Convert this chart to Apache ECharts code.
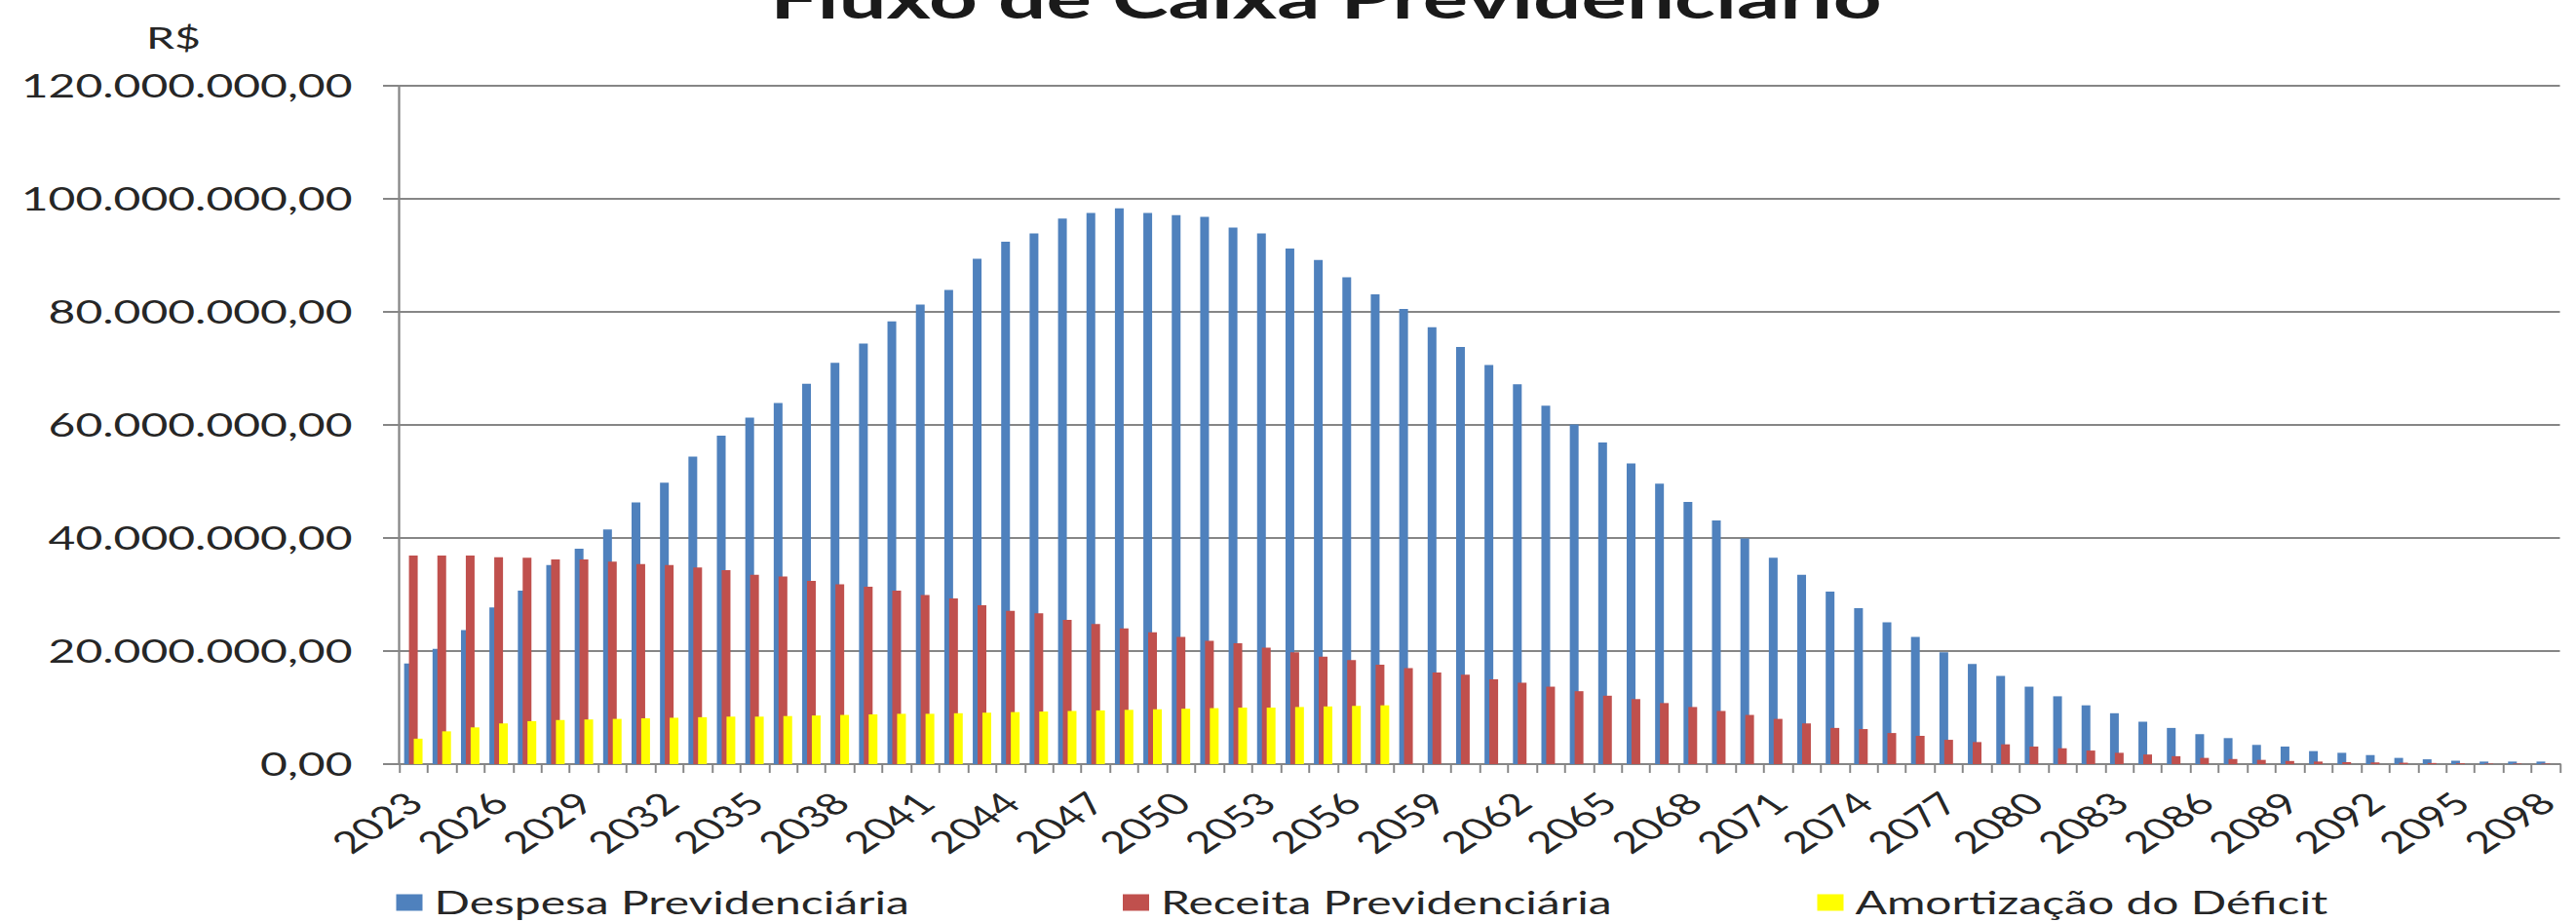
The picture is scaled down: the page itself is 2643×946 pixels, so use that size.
<!DOCTYPE html>
<html>
<head>
<meta charset="utf-8">
<script src="https://cdn.jsdelivr.net/npm/echarts@6/dist/echarts.min.js"></script>
<style>
  html, body { margin: 0; padding: 0; background: #ffffff; overflow: hidden; }
  /* the chart is laid out narrow and widened horizontally, like the original wide export */
  #chart { width: 1762px; height: 946px; transform: scaleX(1.5); transform-origin: 0 0; }
</style>
</head>
<body>
<div id="chart"></div>
<script>
// Anos da projeção atuarial
const anos = [];
for (let a = 2023; a <= 2098; a++) anos.push(String(a));

// Valores em milhões de R$
const despesa = [
  17.8, 20.4, 23.7, 27.7, 30.7, 35.2, 38.1, 41.5, 46.3, 49.8,
  54.4, 58.1, 61.3, 63.9, 67.3, 71.0, 74.4, 78.3, 81.3, 83.9,
  89.4, 92.4, 93.9, 96.5, 97.5, 98.3, 97.5, 97.1, 96.8, 94.9,
  93.9, 91.2, 89.2, 86.1, 83.1, 80.5, 77.3, 73.8, 70.6, 67.2,
  63.4, 60.1, 56.9, 53.2, 49.6, 46.4, 43.1, 39.9, 36.5, 33.5,
  30.5, 27.6, 25.1, 22.5, 19.8, 17.7, 15.6, 13.7, 12.0, 10.4,
  9.0, 7.5, 6.4, 5.3, 4.6, 3.4, 3.1, 2.3, 2.0, 1.6,
  1.1, 0.85, 0.6, 0.45, 0.45, 0.45
];

const receita = [
  36.9, 36.9, 36.9, 36.6, 36.5, 36.2, 36.2, 35.8, 35.4, 35.2,
  34.8, 34.3, 33.5, 33.2, 32.4, 31.8, 31.4, 30.7, 29.9, 29.3,
  28.1, 27.1, 26.7, 25.5, 24.8, 24.0, 23.3, 22.5, 21.8, 21.4,
  20.6, 19.8, 19.0, 18.4, 17.6, 17.0, 16.2, 15.8, 15.0, 14.4,
  13.7, 12.9, 12.1, 11.5, 10.8, 10.1, 9.4, 8.7, 8.0, 7.2,
  6.4, 6.2, 5.5, 5.0, 4.3, 3.9, 3.5, 3.1, 2.8, 2.4,
  2.0, 1.7, 1.4, 1.1, 0.9, 0.75, 0.55, 0.45, 0.35, 0.3,
  0.25, 0.2, 0.15, 0.1, 0.1, 0.1
];

// Amortização do déficit: 2023 a 2057
const amortizacao = [
  4.5, 5.8, 6.5, 7.2, 7.6, 7.8, 7.9, 8.0, 8.1, 8.2,
  8.3, 8.4, 8.4, 8.5, 8.6, 8.7, 8.8, 8.9, 8.9, 9.0,
  9.1, 9.2, 9.3, 9.4, 9.5, 9.6, 9.7, 9.8, 9.9, 10.0,
  10.0, 10.1, 10.2, 10.3, 10.4
];

const nomes = ['Despesa Previdenciária', 'Receita Previdenciária', 'Amortização do Déficit'];
const cores = ['#4F81BD', '#C0504D', '#FFFF00'];

// 120 (milhões) -> "120.000.000,00"
function formatoReal(milhoes) {
  const v = Math.round(milhoes * 1e6);
  return String(v).replace(/\B(?=(\d{3})+(?!\d))/g, '.') + ',00';
}

const FONTE = 'Lato';
const TEXTO = '#262626';
const LINHA = '#868686';

function legenda(nome, esquerda) {
  return {
    data: [nome],
    left: esquerda,
    top: 910,
    icon: 'rect',
    itemWidth: 18,
    itemHeight: 17,
    itemGap: 0,
    padding: 0,
    textStyle: { fontFamily: FONTE, fontSize: 32, lineHeight: 30, color: TEXTO, padding: [0, 0, 0, 3] }
  };
}

function serie(i, dados) {
  return {
    name: nomes[i],
    type: 'bar',
    data: dados,
    barWidth: 6,
    barGap: '-45%',
    itemStyle: { color: cores[i] },
    emphasis: { disabled: true }
  };
}

const chart = echarts.init(document.getElementById('chart'), null, { renderer: 'svg' });
chart.setOption({
  animation: false,
  backgroundColor: '#ffffff',
  title: [
    {
      text: 'Fluxo de Caixa Previdenciário',
      left: 902,
      top: -37,
      textAlign: 'center',
      textStyle: { fontFamily: FONTE, fontWeight: 700, fontSize: 58, color: '#1a1a1a' }
    },
    {
      text: 'R$',
      left: 95,
      top: 17,
      textStyle: { fontFamily: FONTE, fontWeight: 400, fontSize: 31, color: TEXTO }
    }
  ],
  legend: [
    legenda(nomes[0], 271),
    legenda(nomes[1], 768),
    legenda(nomes[2], 1243)
  ],
  grid: { left: 273, right: 11, top: 88, bottom: 162 },
  xAxis: {
    type: 'category',
    data: anos,
    axisLine: { lineStyle: { color: LINHA, width: 2 } },
    axisTick: { show: true, interval: 0, length: 9, lineStyle: { color: LINHA, width: 1.3 } },
    axisLabel: { interval: 2, rotate: 45, margin: 34, fontFamily: FONTE, fontSize: 31, color: TEXTO },
    splitLine: { show: false }
  },
  yAxis: {
    type: 'value',
    min: 0,
    max: 120,
    interval: 20,
    axisLine: { show: true, lineStyle: { color: LINHA, width: 1.5 } },
    axisTick: { show: true, length: 11, lineStyle: { color: LINHA, width: 2 } },
    splitLine: { lineStyle: { color: LINHA, width: 2 } },
    axisLabel: { formatter: formatoReal, margin: 32, fontFamily: FONTE, fontSize: 32, color: TEXTO }
  },
  series: [
    serie(0, despesa),
    serie(1, receita),
    serie(2, amortizacao)
  ]
});
</script>
</body>
</html>
